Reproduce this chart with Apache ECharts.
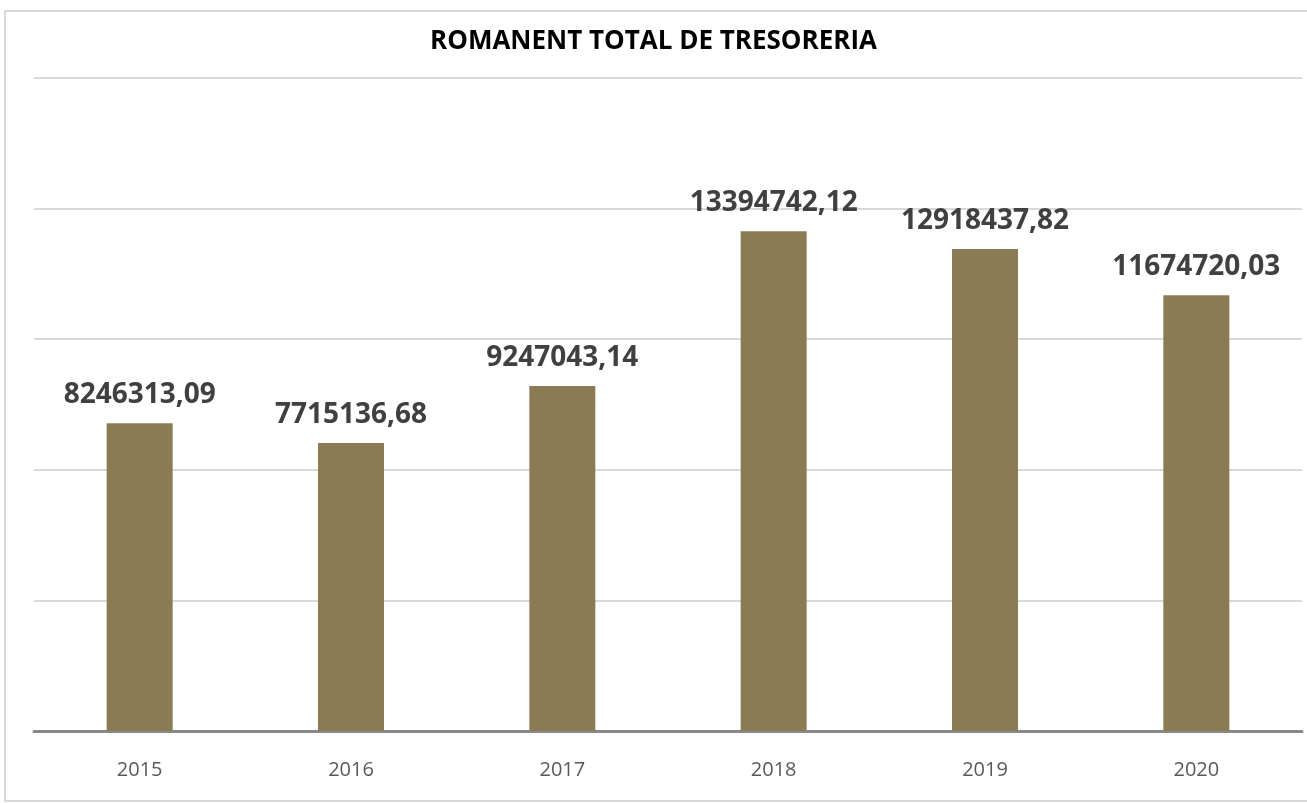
<!DOCTYPE html>
<html>
<head>
<meta charset="utf-8">
<script src="https://cdn.jsdelivr.net/npm/echarts@6/dist/echarts.min.js"></script>
<style>
  html, body { margin: 0; padding: 0; background: #fff; }
  #chart { width: 1307px; height: 803px; }
</style>
</head>
<body>
<div id="chart"></div>
<script>
// dades
var years = ['2015', '2016', '2017', '2018', '2019', '2020'];
var romanent = [8246313.09, 7715136.68, 9247043.14, 13394742.12, 12918437.82, 11674720.03];

var chart = echarts.init(document.getElementById('chart'));

function fmt(v) {
  return v.toFixed(2).replace('.', ',');
}

chart.setOption({
  animation: false,
  textStyle: { fontFamily: 'Open Sans' },
  title: {
    text: 'ROMANENT TOTAL DE TRESORERIA',
    left: 'center',
    top: 24,
    textStyle: { fontSize: 26, fontWeight: 'bold', color: '#000' }
  },
  graphic: [{
    type: 'rect',
    shape: { x: 5, y: 11, width: 1320, height: 790 },
    style: { fill: 'none', stroke: '#d9d9d9', lineWidth: 2 },
    z: -1
  }],
  grid: { left: 34, right: 5, top: 78, bottom: 72 },
  xAxis: {
    type: 'category',
    data: years,
    axisTick: { show: false },
    axisLine: { lineStyle: { color: '#898989', width: 3 } },
    axisLabel: { color: '#595959', fontSize: 20, margin: 29 }
  },
  yAxis: {
    type: 'value',
    min: 0,
    max: 17500000,
    interval: 3500000,
    axisLabel: { show: false },
    axisLine: { show: false },
    axisTick: { show: false },
    splitLine: { lineStyle: { color: '#d9d9d9', width: 2 } }
  },
  series: [{
    type: 'bar',
    data: romanent,
    barWidth: 66,
    itemStyle: { color: '#8b7b55' },
    label: {
      show: true,
      position: 'top',
      distance: 14,
      color: '#404040',
      fontSize: 28,
      fontWeight: 'bold',
      formatter: function (p) { return fmt(p.value); }
    }
  }]
});
</script>
</body>
</html>
